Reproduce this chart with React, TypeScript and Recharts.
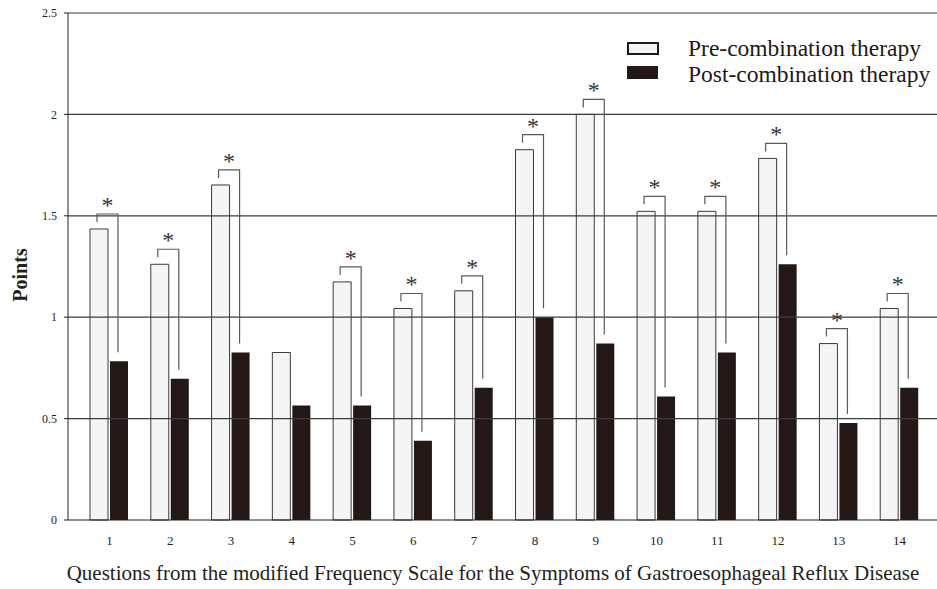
import { Bar, BarChart, LabelList, ReferenceLine, XAxis, YAxis } from 'recharts'

const questions = ['1', '2', '3', '4', '5', '6', '7', '8', '9', '10', '11', '12', '13', '14']
const preTherapy = [1.435, 1.261, 1.652, 0.826, 1.174, 1.043, 1.13, 1.826, 2.0, 1.522, 1.522, 1.783, 0.87, 1.043]
const postTherapy = [0.783, 0.696, 0.826, 0.565, 0.565, 0.391, 0.652, 1.0, 0.87, 0.609, 0.826, 1.261, 0.478, 0.652]
const significant = [true, true, true, false, true, true, true, true, true, true, true, true, true, true]
const yTicks = [0, 0.5, 1, 1.5, 2, 2.5]
const seriesNames = ['Pre-combination therapy', 'Post-combination therapy']

const FONT = '"Liberation Serif", "Times New Roman", serif'
const INK = '#231f20'
const DARK = '#231815'
const BAR_GAP = 2

const data = questions.map((q, i) => ({ q, pre: preTherapy[i], post: postTherapy[i] }))

// bracket + asterisk from the pre bar to the post bar
function Bracket(props: any) {
  const { x, y, width, height, index, value } = props
  if (!significant[index] || !value) return null
  const base = y + height
  const perUnit = height / value
  const postTop = base - postTherapy[index] * perUnit
  const lx = x + width / 2 - 2
  const rx = x + width + BAR_GAP + width / 2 - 1
  const top = y - 15
  return (
    <g>
      <path
        d={`M${lx},${y - 7}V${top}H${rx}V${postTop - 9}`}
        fill="none"
        stroke="#5a5a5a"
        strokeWidth={1.2}
      />
      <text x={(lx + rx) / 2} y={top - 1} textAnchor="middle" fontFamily={FONT} fontSize={24} fill="#333">
        *
      </text>
    </g>
  )
}

function LegendBlock() {
  return (
    <div style={{ position: 'absolute', left: 627, top: 38, fontFamily: FONT, fontSize: 23.5, color: DARK }}>
      {seriesNames.map((name, i) => (
        <div key={name} style={{ position: 'relative', height: 26, lineHeight: '23px' }}>
          <span
            style={{
              position: 'absolute',
              left: 0,
              top: i === 0 ? 4 : 2,
              width: i === 0 ? 28 : 31,
              height: i === 0 ? 9 : 13,
              background: i === 0 ? '#f5f5f5' : DARK,
              border: i === 0 ? `2px solid ${DARK}` : 'none',
            }}
          />
          <span style={{ position: 'absolute', left: 61, top: -1, whiteSpace: 'nowrap' }}>{name}</span>
        </div>
      ))}
    </div>
  )
}

export default function App() {
  return (
    <div style={{ position: 'absolute', left: 0, top: 0, width: 937, height: 589, background: '#fff' }}>
      <BarChart
        width={937}
        height={589}
        data={data}
        margin={{ top: 13, right: 0, bottom: 0, left: 0 }}
        barGap={BAR_GAP}
        barCategoryGap={11}
      >
        <XAxis
          dataKey="q"
          height={69}
          padding={{ left: 11, right: 7 }}
          axisLine={{ stroke: INK }}
          tickLine={false}
          tickSize={0}
          tickMargin={16}
          tick={{ fontFamily: FONT, fontSize: 13, fill: INK }}
        />
        <YAxis
          width={68}
          domain={[0, 2.5]}
          ticks={yTicks}
          interval={0}
          axisLine={{ stroke: INK }}
          tickLine={{ stroke: INK }}
          tickSize={4}
          tickMargin={7}
          tick={{ fontFamily: FONT, fontSize: 12, fill: INK }}
        />
        <Bar
          dataKey="pre"
          name={seriesNames[0]}
          fill="#f5f5f5"
          stroke="#3a3a3a"
          strokeWidth={1}
          isAnimationActive={false}
        >
          <LabelList dataKey="pre" content={<Bracket />} />
        </Bar>
        <Bar dataKey="post" name={seriesNames[1]} fill={DARK} isAnimationActive={false} />
        {yTicks.slice(1).map((t) => (
          <ReferenceLine key={t} y={t} stroke="#3c3c3c" strokeWidth={1.2} />
        ))}
      </BarChart>
      <LegendBlock />
      <div
        style={{
          position: 'absolute',
          left: 20,
          top: 275,
          transform: 'translate(-50%, -50%) rotate(-90deg)',
          fontFamily: FONT,
          fontWeight: 'bold',
          fontSize: 20,
          color: INK,
          whiteSpace: 'nowrap',
        }}
      >
        Points
      </div>
      <div
        style={{
          position: 'absolute',
          left: 0,
          width: 986,
          top: 561,
          textAlign: 'center',
          fontFamily: FONT,
          fontSize: 21,
          color: INK,
          whiteSpace: 'nowrap',
        }}
      >
        Questions from the modified Frequency Scale for the Symptoms of Gastroesophageal Reflux Disease
      </div>
    </div>
  )
}
